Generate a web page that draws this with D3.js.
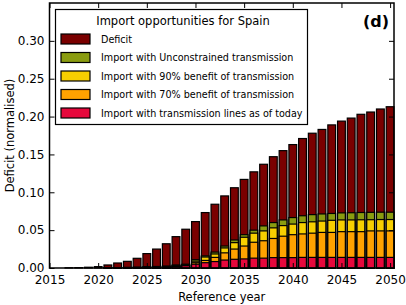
<!DOCTYPE html>
<html>
<head>
<meta charset="utf-8">
<script src="https://d3js.org/d3.v7.min.js"></script>
<style>
  body { margin: 0; background: #fff; }
  text { font-family: "DejaVu Sans", sans-serif; fill: #000; }
</style>
</head>
<body>
<svg id="chart" width="406" height="305"></svg>
<script>
// data
var years = [2016, 2017, 2018, 2019, 2020, 2021, 2022, 2023, 2024, 2025,
             2026, 2027, 2028, 2029, 2030, 2031, 2032, 2033, 2034, 2035,
             2036, 2037, 2038, 2039, 2040, 2041, 2042, 2043, 2044, 2045,
             2046, 2047, 2048, 2049, 2050];

var deficit = [0, 0.0003, 0.0005, 0.001, 0.0018, 0.004, 0.0066, 0.0088, 0.0128, 0.019,
               0.025, 0.032, 0.0414, 0.0512, 0.0613, 0.0732, 0.0842, 0.0952, 0.106, 0.117,
               0.127, 0.137, 0.147, 0.155, 0.163, 0.171, 0.178, 0.183, 0.189, 0.194,
               0.198, 0.203, 0.206, 0.210, 0.213];

var unconstrained = [0, 0, 0, 0, 0, 0.0003, 0.0005, 0.0008, 0.001, 0.0015,
                     0.002, 0.0025, 0.004, 0.005, 0.011, 0.016, 0.021, 0.029, 0.037, 0.044,
                     0.050, 0.0556, 0.060, 0.0635, 0.0666, 0.069, 0.0705, 0.0714, 0.072, 0.0728,
                     0.073, 0.0733, 0.0735, 0.0737, 0.0737];

var benefit90 = [0, 0, 0, 0, 0, 0.0002, 0.0004, 0.0006, 0.0008, 0.0012,
                 0.0016, 0.002, 0.003, 0.004, 0.009, 0.0145, 0.0185, 0.0265, 0.0335, 0.0406,
                 0.046, 0.049, 0.053, 0.056, 0.058, 0.060, 0.061, 0.062, 0.063, 0.0635,
                 0.0635, 0.0637, 0.0638, 0.064, 0.064];

var benefit70 = [0, 0, 0, 0, 0, 0.0001, 0.0003, 0.0005, 0.0007, 0.001,
                 0.0013, 0.0016, 0.0025, 0.0035, 0.007, 0.010, 0.014, 0.020, 0.025, 0.029,
                 0.034, 0.036, 0.039, 0.042, 0.044, 0.045, 0.046, 0.047, 0.047, 0.048,
                 0.048, 0.048, 0.049, 0.049, 0.049];

var today = [0, 0, 0, 0, 0, 0.0001, 0.0002, 0.0004, 0.0005, 0.0007,
             0.001, 0.0013, 0.002, 0.003, 0.005, 0.007, 0.0085, 0.0105, 0.0115, 0.012,
             0.013, 0.013, 0.0137, 0.0137, 0.0137, 0.014, 0.014, 0.014, 0.014, 0.014,
             0.014, 0.014, 0.014, 0.014, 0.014];

var seriesNames = ["Deficit",
                   "Import with Unconstrained transmission",
                   "Import with 90% benefit of transmission",
                   "Import with 70% benefit of transmission",
                   "Import with transmission lines as of today"];
var seriesColors = ["#7a0000", "#8a9c10", "#f7cf00", "#ffa200", "#e6083c"];
var seriesValues = [deficit, unconstrained, benefit90, benefit70, today];

var xTicks = [2015, 2020, 2025, 2030, 2035, 2040, 2045, 2050];
var yTicks = [0, 0.05, 0.10, 0.15, 0.20, 0.25, 0.30];

var svg = d3.select("#chart");
var pL = 49.5, pR = 394, pT = 3, pB = 268;

var x = d3.scaleLinear().domain([2015, 2050.4]).range([pL, pR]);
var y = d3.scaleLinear().domain([0, 0.35]).range([pB, pT]);
var barW = x(2015.8) - x(2015);

// bars, drawn over each other from the baseline
for (let s = 0; s < seriesValues.length; s++) {
    svg.append("g").selectAll("rect")
        .data(years)
        .join("rect")
        .attr("x", function(d) { return x(d) - barW / 2; })
        .attr("y", function(d, i) { return y(seriesValues[s][i]); })
        .attr("width", barW)
        .attr("height", function(d, i) { return y(0) - y(seriesValues[s][i]); })
        .attr("fill", seriesColors[s])
        .attr("stroke", "black")
        .attr("stroke-width", 1.2);
}

// axes: ticks inside on all four sides
var tl = 5;
svg.append("g").attr("transform", "translate(0," + pB + ")")
    .call(d3.axisBottom(x).tickValues(xTicks).tickFormat(d3.format("d")).tickSizeInner(-tl).tickSizeOuter(0).tickPadding(7))
    .call(g => g.select(".domain").remove())
    .call(g => g.selectAll("text").attr("font-size", "12px").attr("font-family", "DejaVu Sans"));
svg.append("g").attr("transform", "translate(0," + pT + ")")
    .call(d3.axisTop(x).tickValues(xTicks).tickFormat("").tickSizeInner(-tl).tickSizeOuter(0))
    .call(g => g.select(".domain").remove());
svg.append("g").attr("transform", "translate(" + pL + ",0)")
    .call(d3.axisLeft(y).tickValues(yTicks).tickFormat(d3.format(".2f")).tickSizeInner(-tl).tickSizeOuter(0).tickPadding(5))
    .call(g => g.select(".domain").remove())
    .call(g => g.selectAll("text").attr("font-size", "12px").attr("font-family", "DejaVu Sans"));
svg.append("g").attr("transform", "translate(" + pR + ",0)")
    .call(d3.axisRight(y).tickValues(yTicks).tickFormat("").tickSizeInner(-tl).tickSizeOuter(0))
    .call(g => g.select(".domain").remove());

svg.append("rect")
    .attr("x", pL).attr("y", pT)
    .attr("width", pR - pL).attr("height", pB - pT)
    .attr("fill", "none").attr("stroke", "black").attr("stroke-width", 1.5);

// axis titles
svg.append("text")
    .attr("x", (pL + pR) / 2).attr("y", 301)
    .attr("text-anchor", "middle").attr("font-size", "11.5px")
    .text("Reference year");
svg.append("text")
    .attr("transform", "translate(14," + ((pT + pB) / 2) + ") rotate(-90)")
    .attr("text-anchor", "middle").attr("font-size", "11.5px")
    .text("Deficit (normalised)");

// panel letter
svg.append("text")
    .attr("x", 389).attr("y", 27)
    .attr("text-anchor", "end").attr("font-size", "16px").attr("font-weight", "bold")
    .text("(d)");

// legend
var lg = svg.append("g");
lg.append("rect")
    .attr("x", 55.5).attr("y", 9.5).attr("width", 252).attr("height", 115)
    .attr("fill", "white").attr("stroke", "black").attr("stroke-width", 1.2);
lg.append("text")
    .attr("x", 183).attr("y", 25)
    .attr("text-anchor", "middle").attr("font-size", "11.5px")
    .text("Import opportunities for Spain");
var rows = lg.selectAll("g.row")
    .data(seriesNames)
    .join("g")
    .attr("class", "row")
    .attr("transform", function(d, i) { return "translate(0," + (39 + i * 18.5) + ")"; });
rows.append("rect")
    .attr("x", 61).attr("y", -5).attr("width", 29).attr("height", 10)
    .attr("fill", function(d, i) { return seriesColors[i]; })
    .attr("stroke", "black").attr("stroke-width", 1.2);
rows.append("text")
    .attr("x", 101).attr("y", 3.5)
    .attr("font-size", "9.6px")
    .text(function(d) { return d; });
</script>
</body>
</html>
